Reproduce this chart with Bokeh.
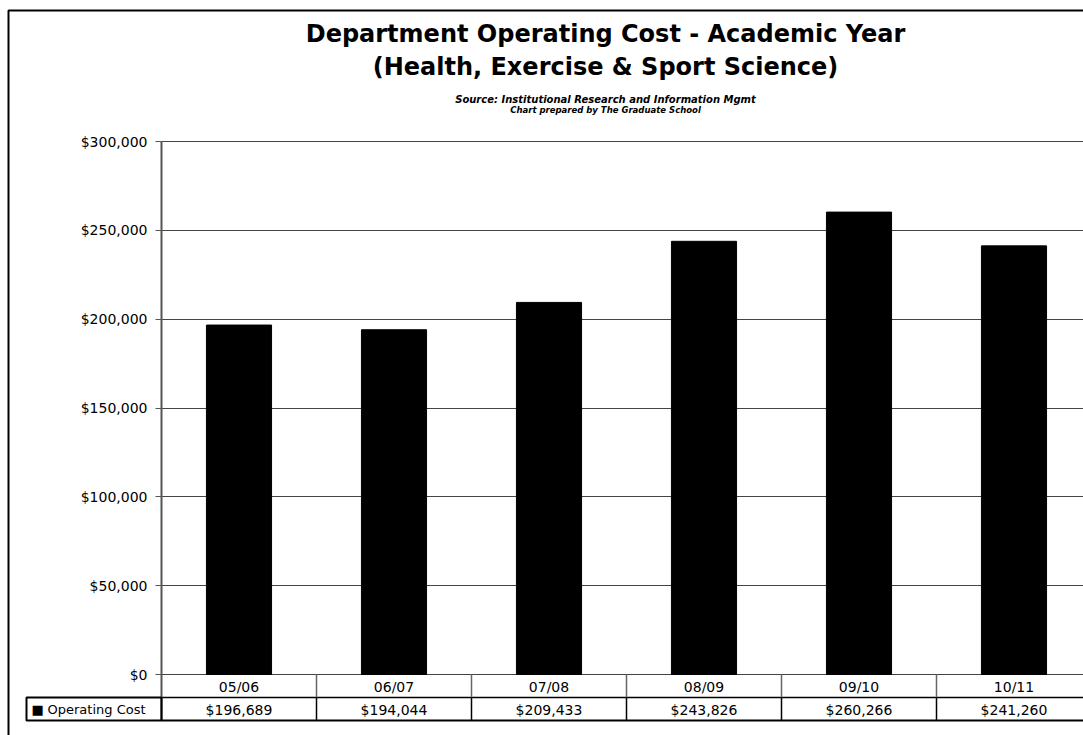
from bokeh.plotting import figure
from bokeh.models import (Range1d, FixedTicker, NumeralTickFormatter, Label,
                          BoxAnnotation, ColumnDataSource, LinearAxis, Grid)
from bokeh.core.properties import value
from bokeh.embed import file_html
from bokeh.resources import INLINE

# ---- data ----
years = ["05/06", "06/07", "07/08", "08/09", "09/10", "10/11"]
operating_cost = [196689, 194044, 209433, 243826, 260266, 241260]
y_ticks = [0, 50000, 100000, 150000, 200000, 250000, 300000]
series_name = "Operating Cost"
title_1 = "Department Operating Cost - Academic Year"
title_2 = "(Health, Exercise & Sport Science)"
subtitle_1 = "Source: Institutional Research and Information Mgmt"
subtitle_2 = "Chart prepared by The Graduate School"

W, H = 1083, 735
AXIS_PX = 161
COL_W = 155          # pixels per category
Y_TOP_PX, Y_ZERO_PX = 141, 674
K = (Y_ZERO_PX - Y_TOP_PX) / max(y_ticks)   # px per unit


def dx(pix):
    return (pix - AXIS_PX) / COL_W


def dy(pix):
    return (Y_ZERO_PX - pix) / K


FONT = "DejaVu Sans"
n = len(years)
xs = [i + 0.5 for i in range(n)]

p = figure(width=W, height=H, output_backend="svg", toolbar_location=None,
           x_axis_location=None, y_axis_location=None,
           min_border_left=0, min_border_right=0,
           min_border_top=0, min_border_bottom=0,
           x_range=Range1d(dx(0), dx(W)), y_range=Range1d(dy(H), dy(0)))
p.outline_line_color = None
p.background_fill_color = "white"
p.border_fill_color = "white"

# hide the default grids created by figure()
for r in list(p.center):
    if isinstance(r, Grid):
        r.visible = False

# value axis, drawn at the left edge of the plot area
yax = LinearAxis(fixed_location=0)
yax.ticker = FixedTicker(ticks=y_ticks)
yax.formatter = NumeralTickFormatter(format="$0,0")
yax.bounds = (dy(720), max(y_ticks))
yax.axis_line_color = "#555555"
yax.axis_line_width = 2
yax.major_tick_line_color = "#555555"
yax.major_tick_out = 6
yax.major_tick_in = 0
yax.minor_tick_line_color = None
yax.major_label_standoff = 8
yax.major_label_text_font = FONT
yax.major_label_text_font_size = "14px"
yax.major_label_text_color = "black"
p.add_layout(yax, "left")

# horizontal gridlines over the plot area only
if "cross_bounds" in Grid.properties():
    grid = Grid(dimension=1, ticker=FixedTicker(ticks=y_ticks),
                cross_bounds=(0, n), grid_line_color="#444444",
                grid_line_width=1)
    p.add_layout(grid, "center")
else:
    p.segment(x0=[0] * len(y_ticks), x1=[n] * len(y_ticks), y0=y_ticks,
              y1=y_ticks, line_color="#444444", line_width=1)

# bars
src = ColumnDataSource(dict(x=xs, top=operating_cost,
                            label=years,
                            val=["${:,}".format(v) for v in operating_cost]))
p.vbar(x="x", top="top", width=0.42, source=src, fill_color="black",
       line_color="black")

# data table under the chart
row1_mid = dy(686)
row2_mid = dy(709)
row_div = dy(697)
tbl_bot = dy(720)
p.text(x="x", y=row1_mid, text="label", source=src, text_align="center",
       text_baseline="middle", text_font=value(FONT), text_font_size="14px",
       text_color="black")
p.text(x="x", y=row2_mid, text="val", source=src, text_align="center",
       text_baseline="middle", text_font=value(FONT), text_font_size="14px",
       text_color="black")
p.segment(x0=[0, 0], x1=[n, n], y0=[row_div, tbl_bot], y1=[row_div, tbl_bot],
          line_color="black", line_width=[1.5, 2])
dividers = list(range(1, n))
p.segment(x0=dividers, x1=dividers, y0=[0] * len(dividers),
          y1=[row_div] * len(dividers), line_color="#666666", line_width=1.5)
p.segment(x0=dividers, x1=dividers, y0=[row_div] * len(dividers),
          y1=[tbl_bot] * len(dividers), line_color="black", line_width=1.5)

# legend cell of the table
p.add_layout(BoxAnnotation(left=dx(26), right=0, top=row_div, bottom=tbl_bot,
                           fill_color=None, fill_alpha=0,
                           line_color="black", line_alpha=1, line_width=2))
p.add_layout(Label(x=dx(31), y=row2_mid, text="■", text_baseline="middle",
                   text_font=FONT, text_font_size="13px", text_color="black"))
p.add_layout(Label(x=dx(47), y=row2_mid, text=series_name,
                   text_baseline="middle", text_font=FONT,
                   text_font_size="13px", text_color="black"))

# outer chart border (cut off by the window at right / bottom)
p.add_layout(BoxAnnotation(left=dx(8), right=dx(W + 200), top=dy(10),
                           bottom=dy(H + 200), fill_color=None, fill_alpha=0,
                           line_color="black", line_alpha=1, line_width=2))

# titles
cx = dx(605)
p.add_layout(Label(x=cx, y=dy(47), text=title_1, text_align="center",
                   text_font=FONT, text_font_style="bold",
                   text_font_size="24px", text_color="black"))
p.add_layout(Label(x=cx, y=dy(80), text=title_2, text_align="center",
                   text_font=FONT, text_font_style="bold",
                   text_font_size="24px", text_color="black"))
p.add_layout(Label(x=cx, y=dy(104), text=subtitle_1, text_align="center",
                   text_font=FONT, text_font_style="bold italic",
                   text_font_size="10px", text_color="black"))
p.add_layout(Label(x=cx, y=dy(114), text=subtitle_2, text_align="center",
                   text_font=FONT, text_font_style="bold italic",
                   text_font_size="8.5px", text_color="black"))

open("out.html", "w").write(file_html(p, INLINE))
